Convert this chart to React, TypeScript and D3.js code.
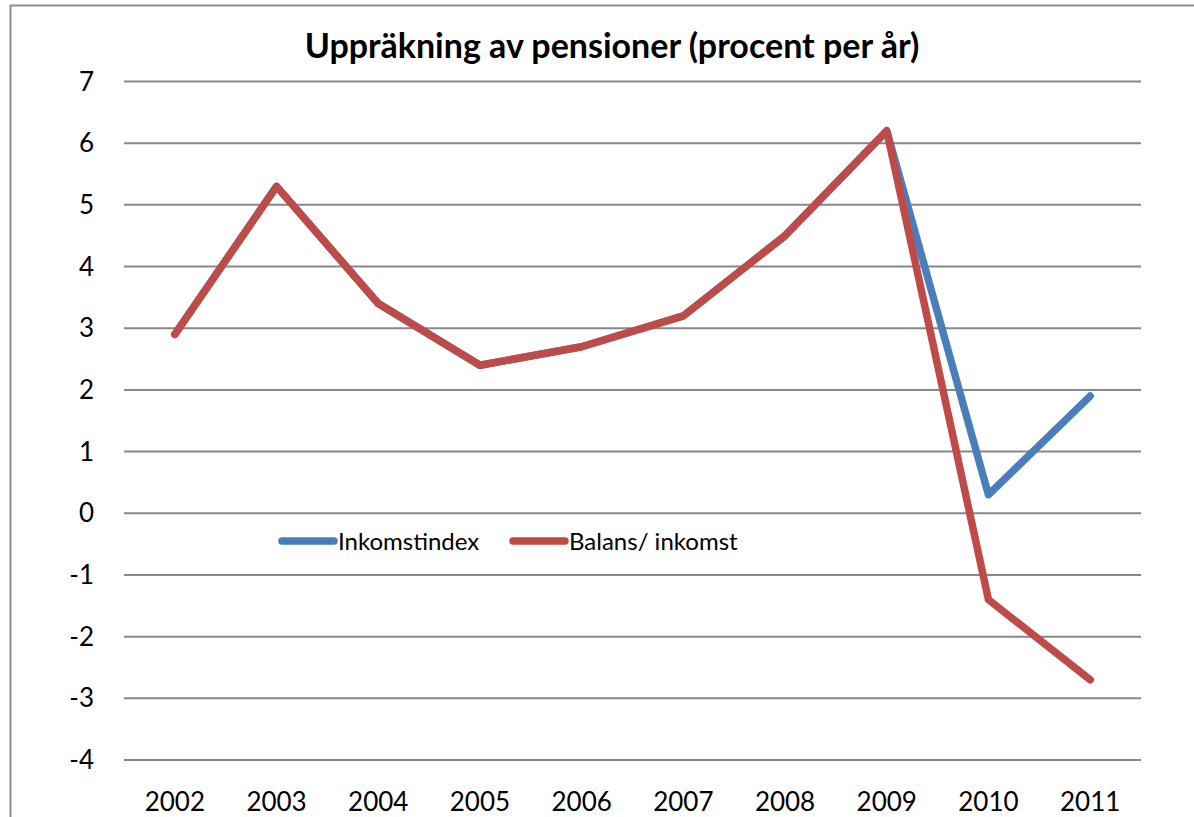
import { useEffect, useRef } from 'react';
import * as d3 from 'd3';

const years = ['2002', '2003', '2004', '2005', '2006', '2007', '2008', '2009', '2010', '2011'];
const inkomstindex = [2.9, 5.3, 3.4, 2.4, 2.7, 3.2, 4.5, 6.2, 0.3, 1.9];
const balans = [2.9, 5.3, 3.4, 2.4, 2.7, 3.2, 4.5, 6.2, -1.4, -2.7];
const yTicks = [7, 6, 5, 4, 3, 2, 1, 0, -1, -2, -3, -4];

const W = 1194;
const H = 817;
const FONT = 'Lato, "Open Sans", sans-serif';

export default function App() {
  const svgRef = useRef<SVGSVGElement>(null);

  useEffect(() => {
    if (!svgRef.current) return;
    const svg = d3.select(svgRef.current);
    svg.selectAll('*').remove();

    const left = 124;
    const right = 1141;

    const x = d3.scaleBand().domain(years).range([left, right]);
    const y = d3.scaleLinear().domain([-4, 7]).range([760, 81.5]);

    // outer frame
    svg.append('rect')
      .attr('x', 10.5)
      .attr('y', 5.5)
      .attr('width', W + 20)
      .attr('height', H + 20)
      .attr('fill', 'none')
      .attr('stroke', '#8c8c8c')
      .attr('stroke-width', 2);

    // title
    svg.append('text')
      .attr('x', 612)
      .attr('y', 58)
      .attr('text-anchor', 'middle')
      .style('font-family', FONT)
      .style('font-weight', 'bold')
      .style('font-size', '34px')
      .text('Uppräkning av pensioner (procent per år)');

    // gridlines
    svg.append('g')
      .selectAll('line')
      .data(yTicks)
      .enter()
      .append('line')
      .attr('x1', left)
      .attr('x2', right)
      .attr('y1', d => y(d))
      .attr('y2', d => y(d))
      .attr('stroke', '#888')
      .attr('stroke-width', 2);

    // y labels
    svg.append('g')
      .selectAll('text')
      .data(yTicks)
      .enter()
      .append('text')
      .attr('x', 94)
      .attr('y', d => y(d) + 9)
      .attr('text-anchor', 'end')
      .style('font-family', FONT)
      .style('font-size', '26px')
      .text(d => String(d));

    // x labels
    svg.append('g')
      .selectAll('text')
      .data(years)
      .enter()
      .append('text')
      .attr('x', d => (x(d) ?? 0) + x.bandwidth() / 2)
      .attr('y', 811)
      .attr('text-anchor', 'middle')
      .style('font-family', FONT)
      .style('font-size', '26px')
      .text(d => d);

    const line = d3.line<number>()
      .x((_, i) => (x(years[i]) ?? 0) + x.bandwidth() / 2)
      .y(d => y(d));

    const series = [
      { name: 'Inkomstindex', values: inkomstindex, color: '#4a7ebb' },
      { name: 'Balans/ inkomst', values: balans, color: '#be4b48' }
    ];

    series.forEach(s => {
      svg.append('path')
        .attr('d', line(s.values))
        .attr('fill', 'none')
        .attr('stroke', s.color)
        .attr('stroke-width', 7.5)
        .attr('stroke-linejoin', 'round')
        .attr('stroke-linecap', 'round');
    });

    // legend
    const legendX = [282, 513];
    series.forEach((s, i) => {
      const g = svg.append('g').attr('transform', `translate(${legendX[i]},541)`);
      g.append('line')
        .attr('x1', 0)
        .attr('x2', 52)
        .attr('stroke', s.color)
        .attr('stroke-width', 7.5)
        .attr('stroke-linecap', 'round');
      g.append('text')
        .attr('x', 56)
        .attr('y', 9)
        .style('font-family', FONT)
        .style('font-size', '24px')
        .text(s.name);
    });
  }, []);

  return (
    <svg
      ref={svgRef}
      width={W}
      height={H}
      style={{ position: 'absolute', left: 0, top: 0, display: 'block', background: '#fff' }}
    />
  );
}
